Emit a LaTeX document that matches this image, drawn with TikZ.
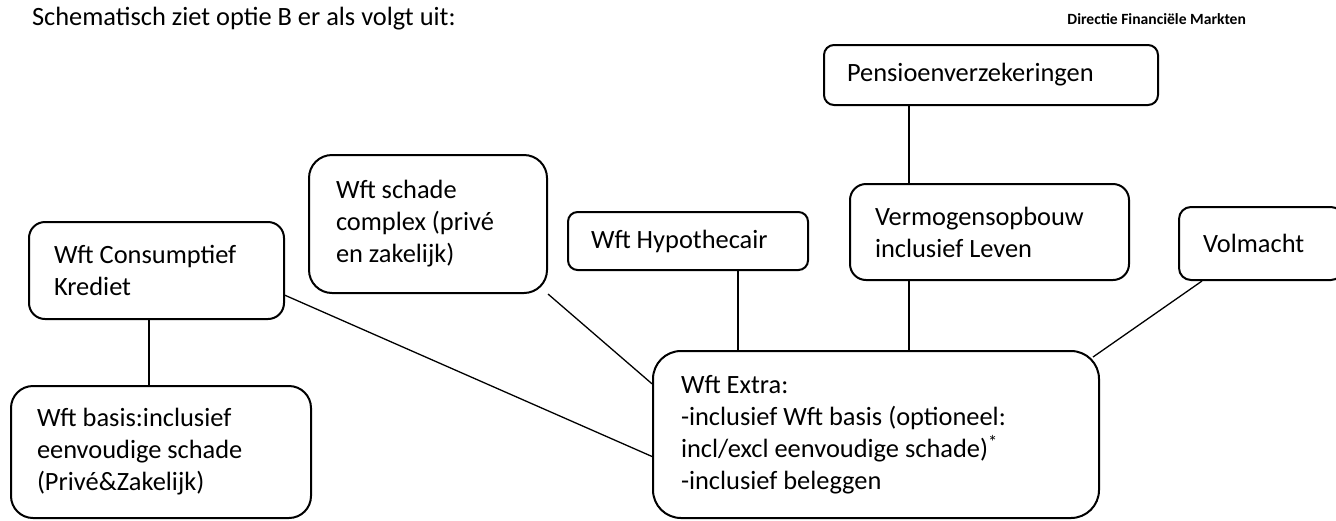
\documentclass[tikz,border=0pt]{standalone}
\usepackage{fontspec}
\setmainfont{Carlito}
\usetikzlibrary{positioning, calc}

\begin{document}
\begin{tikzpicture}[
  x=1pt, y=-1pt,
  every node/.style={font=\fontsize{13.2}{16}\selectfont},
  box/.style={draw, line width=1pt, anchor=north west, align=left, inner ysep=0pt,
    execute at begin node={\spaceskip=0pt \xspaceskip=0pt}},
  link/.style={line width=0.65pt}
]
\useasboundingbox (0,0) rectangle (668,260);

% Heading
\node[anchor=base west] (title) at (12.5,12.5) {Schematisch ziet optie B er als volgt uit:};
\node[anchor=base east, font=\fontsize{7.8}{9}\selectfont\bfseries] (dept) at (626.5,12) {Directie Financiële Markten};

% Upper row
\node[box, rounded corners=5pt, minimum height=30pt, text width=144pt, inner xsep=11.5pt] (pens) at (411.5,22) {Pensioenverzekeringen};
\node[box, rounded corners=8pt, minimum height=48pt, text width=114.5pt, inner xsep=12.5pt] (verm) at (424.5,91.5) {Vermogensopbouw\\inclusief Leven};
\node[box, rounded corners=4.8pt, minimum height=29pt, text width=97pt, inner xsep=11.5pt] (hyp) at (283.5,105.5) {Wft Hypothecair};
\node[box, rounded corners=11.5pt, minimum height=69pt, text width=92pt, inner xsep=13.5pt] (schade) at (154,77) {Wft schade\\complex (privé\\en zakelijk)};
\node[box, rounded corners=8pt, minimum height=48.5pt, text width=102.5pt, inner xsep=12.5pt] (kred) at (14,110.5) {Wft Consumptief\\Krediet};
\node[box, rounded corners=6pt, minimum height=36.5pt, text width=58pt, inner xsep=12pt] (volm) at (589,103) {Volmacht};

% Lower row
\node[box, rounded corners=11pt, minimum height=66pt, text width=124pt, inner xsep=13pt] (basis) at (5,192.5) {Wft basis:inclusief\\eenvoudige schade\\(Privé\&Zakelijk)};
\node[box, rounded corners=14pt, minimum height=83.5pt, text width=195pt, inner xsep=14pt] (extra) at (326,175) {Wft Extra:\\-inclusief Wft basis (optioneel:\\incl/excl eenvoudige schade)\textsuperscript{*}\\-inclusief beleggen};

% Connectors
\coordinate (vlink) at ($(verm.north west)+(30,0)$);
\coordinate (hlink) at ($(hyp.south west)+(85.5,0)$);
\coordinate (klink) at ($(kred.south west)+(60.5,0)$);
\draw[link] (vlink |- pens.south) -- (vlink);
\draw[link] (vlink |- verm.south) -- (vlink |- extra.north);
\draw[link] (hlink) -- (hlink |- extra.north);
\draw[link] (schade.south east) -- ($(extra.north west)!0.2!(extra.south west)$);
\draw[link] ($(kred.north east)!0.75!(kred.south east)$) -- ($(extra.north west)!0.63!(extra.south west)$);
\draw[link] (klink) -- (klink |- basis.north);
\draw[link] ($(volm.south west)+(12,0)$) -- ($(extra.north east)+(-3.5,3.5)$);

\end{tikzpicture}
\end{document}
